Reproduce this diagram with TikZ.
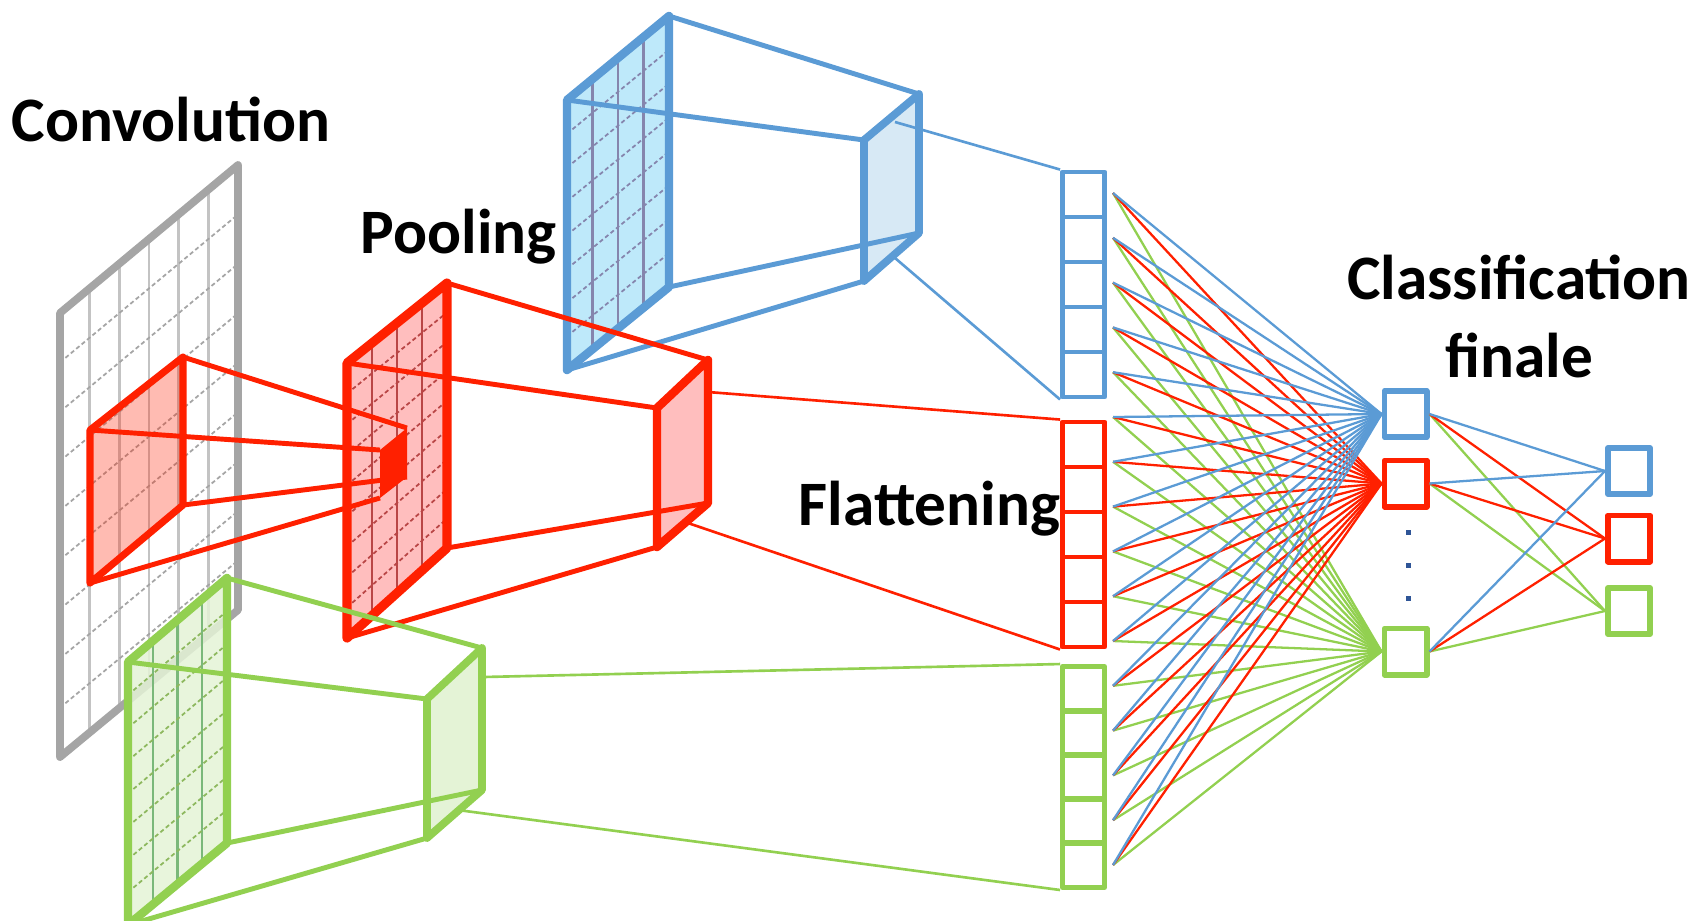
\documentclass[tikz,border=0pt]{standalone}
\usepackage{fontspec}
\setmainfont{Carlito}
\usetikzlibrary{calc}

\definecolor{cnnblue}{RGB}{91,155,213}
\definecolor{cnnred}{RGB}{255,32,0}
\definecolor{cnngreen}{RGB}{146,208,80}
\definecolor{cnngray}{RGB}{165,165,165}
\definecolor{gridgray}{RGB}{195,195,195}
\definecolor{fillblue}{RGB}{190,233,250}
\definecolor{fillred}{RGB}{255,190,190}
\definecolor{fillgreen}{RGB}{228,243,214}
\definecolor{boxblue}{RGB}{215,233,245}
\definecolor{dotblue}{RGB}{47,85,151}

\tikzset{
  label/.style={font=\fontsize{18}{22}\selectfont\bfseries, inner sep=0pt},
  cell/.style={draw, line width=1.4pt, minimum width=0.42cm, minimum height=0.45cm, inner sep=0pt},
  unit/.style={draw, line width=1.7pt, fill=white, minimum width=0.42cm, minimum height=0.46cm, inner sep=0pt},
  cone/.style={line width=1.4pt},
  feed/.style={line width=0.75pt},
  net/.style={line width=0.65pt},
  vline/.style={line width=0.7pt},
  hline/.style={line width=0.5pt, dash pattern=on 1.2pt off 0.8pt}
}

\begin{document}
\begin{tikzpicture}[x=0.01cm, y=-0.01cm, line join=round]

  \useasboundingbox (0,0) rectangle (1700,920);

  % convolution plane
  \coordinate (c1) at (60,313);
  \coordinate (c2) at (238,165);
  \coordinate (c3) at (238,610);
  \coordinate (c4) at (60,757);
  \fill[white] (c1) -- (c2) -- (c3) -- (c4) -- cycle;
  \foreach \t in {1,...,5}
    \draw[vline, gridgray] ($(c1)!{\t/6}!(c2)$) -- ($(c4)!{\t/6}!(c3)$);
  \foreach \t in {1,...,8}
    \draw[hline, cnngray] ($(c1)!{\t/9}!(c4)$) -- ($(c2)!{\t/9}!(c3)$);
  \draw[line width=2.2pt, cnngray] (c1) -- (c2) -- (c3) -- (c4) -- cycle;

  % red filter
  \coordinate (k1) at (90,430);
  \coordinate (k2) at (183,357);
  \coordinate (k3) at (183,505);
  \coordinate (k4) at (90,583);
  \filldraw[draw=cnnred, fill=cnnred, fill opacity=0.3, line width=2pt]
    (k1) -- (k2) -- (k3) -- (k4) -- cycle;

  % red pooling plane
  \coordinate (p1) at (347,363);
  \coordinate (p2) at (447,283);
  \coordinate (p3) at (447,548);
  \coordinate (p4) at (347,638);
  \fill[fillred] (p1) -- (p2) -- (p3) -- (p4) -- cycle;
  \foreach \t in {1,...,3}
    \draw[vline, red!45!gray] ($(p1)!{\t/4}!(p2)$) -- ($(p4)!{\t/4}!(p3)$);
  \foreach \t in {1,...,8}
    \draw[hline, red!45!gray] ($(p1)!{\t/9}!(p4)$) -- ($(p2)!{\t/9}!(p3)$);
  \draw[line width=2.6pt, cnnred] (p1) -- (p2) -- (p3) -- (p4) -- cycle;

  \coordinate (q1) at (380,450);
  \coordinate (q2) at (407,428);
  \coordinate (q3) at (407,477);
  \coordinate (q4) at (380,498);
  \fill[cnnred] (q1) -- (q2) -- (q3) -- (q4) -- cycle;
  \draw[cone, cnnred] (k1) -- (q1);
  \draw[cone, cnnred] (k2) -- (q2);
  \draw[cone, cnnred] (k3) -- (q3);
  \draw[cone, cnnred] (k4) -- (q4);

  % blue plane
  \coordinate (u1) at (567,100);
  \coordinate (u2) at (669,16);
  \coordinate (u3) at (669,287);
  \coordinate (u4) at (567,370);
  \fill[fillblue] (u1) -- (u2) -- (u3) -- (u4) -- cycle;
  \foreach \t in {1,...,3}
    \draw[vline, blue!20!gray!80] ($(u1)!{\t/4}!(u2)$) -- ($(u4)!{\t/4}!(u3)$);
  \foreach \t in {1,...,7}
    \draw[hline, blue!20!gray!80] ($(u1)!{\t/8}!(u4)$) -- ($(u2)!{\t/8}!(u3)$);
  \draw[line width=2.4pt, cnnblue] (u1) -- (u2) -- (u3) -- (u4) -- cycle;

  \coordinate (v1) at (864,140);
  \coordinate (v2) at (919,94);
  \coordinate (v3) at (919,233);
  \coordinate (v4) at (864,281);
  \filldraw[draw=cnnblue, fill=boxblue, line width=2.2pt]
    (v1) -- (v2) -- (v3) -- (v4) -- cycle;
  \draw[cone, cnnblue] (u1) -- (v1);
  \draw[cone, cnnblue] (u2) -- (v2);
  \draw[cone, cnnblue] (u3) -- (v3);
  \draw[cone, cnnblue] (u4) -- (v4);

  % red pooled box
  \coordinate (s1) at (657,408);
  \coordinate (s2) at (708,360);
  \coordinate (s3) at (708,503);
  \coordinate (s4) at (657,547);
  \filldraw[draw=cnnred, fill=fillred, line width=2.4pt]
    (s1) -- (s2) -- (s3) -- (s4) -- cycle;
  \draw[cone, cnnred] (p1) -- (s1);
  \draw[cone, cnnred] (p2) -- (s2);
  \draw[cone, cnnred] (p3) -- (s3);
  \draw[cone, cnnred] (p4) -- (s4);

  % green plane
  \coordinate (w1) at (128,662);
  \coordinate (w2) at (227,578);
  \coordinate (w3) at (227,843);
  \coordinate (w4) at (128,925);
  \fill[fillgreen, fill opacity=0.85] (w1) -- (w2) -- (w3) -- (w4) -- cycle;
  \foreach \t in {1,...,3}
    \draw[vline, green!30!gray!80] ($(w1)!{\t/4}!(w2)$) -- ($(w4)!{\t/4}!(w3)$);
  \foreach \t in {1,...,7}
    \draw[hline, cnngreen!70!gray] ($(w1)!{\t/8}!(w4)$) -- ($(w2)!{\t/8}!(w3)$);
  \draw[line width=2.4pt, cnngreen] (w1) -- (w2) -- (w3) -- (w4) -- cycle;

  \coordinate (z1) at (427,699);
  \coordinate (z2) at (482,648);
  \coordinate (z3) at (482,790);
  \coordinate (z4) at (427,838);
  \filldraw[draw=cnngreen, fill=fillgreen, line width=2.2pt]
    (z1) -- (z2) -- (z3) -- (z4) -- cycle;
  \draw[cone, cnngreen] (w1) -- (z1);
  \draw[cone, cnngreen] (w2) -- (z2);
  \draw[cone, cnngreen] (w3) -- (z3);
  \draw[cone, cnngreen] (w4) -- (z4);

  % flattening
  \foreach \i in {1,...,5} {
    \node[cell, draw=cnnblue]  (b\i) at (1083.5,{194.5+45*(\i-1)}) {};
    \node[cell, draw=cnnred]   (r\i) at (1083.5,{444.5+45*(\i-1)}) {};
    \node[cell, draw=cnngreen] (g\i) at (1083.5,{689+44*(\i-1)}) {};
  }

  \coordinate (v5) at (895,122);
  \coordinate (v6) at (895,258);
  \coordinate (s5) at (708,392);
  \coordinate (s6) at (685,522);
  \coordinate (z5) at (483,677);
  \coordinate (z6) at (458,810);
  \draw[feed, cnnblue]  (v5) -- (b1.north west);
  \draw[feed, cnnblue]  (v6) -- (b5.south west);
  \draw[feed, cnnred]   (s5) -- (r1.north west);
  \draw[feed, cnnred]   (s6) -- (r5.south west);
  \draw[feed, cnngreen] (z5) -- (g1.north west);
  \draw[feed, cnngreen] (z6) -- (g5.south west);

  % fully connected
  \node[unit, draw=cnnblue]  (h1) at (1405.5,414) {};
  \node[unit, draw=cnnred]   (h2) at (1405.5,483.5) {};
  \node[unit, draw=cnngreen] (h3) at (1405.5,651.5) {};
  \foreach \i in {1,...,3}
    \node[fill=dotblue, minimum size=0.05cm, inner sep=0pt] (d\i) at (1408,{532+33*(\i-1)}) {};

  \foreach \i in {1,...,16}
    \coordinate (f\i) at (1113,{193+44.8*(\i-1)});
  \foreach \i in {1,...,16}
    \draw[net, cnngreen] (f\i) -- (h3.west);
  \foreach \i in {1,...,16}
    \draw[net, cnnred] (f\i) -- (h2.west);
  \foreach \i in {1,...,16}
    \draw[net, cnnblue] (f\i) -- (h1.west);

  \node[unit, draw=cnnblue]  (o1) at (1629,471) {};
  \node[unit, draw=cnnred]   (o2) at (1629,538.5) {};
  \node[unit, draw=cnngreen] (o3) at (1629,611) {};
  \foreach \h in {1,2,3} {
    \draw[net, cnngreen] (h\h.east) -- (o3.west);
    \draw[net, cnnred]   (h\h.east) -- (o2.west);
    \draw[net, cnnblue]  (h\h.east) -- (o1.west);
  }

  % labels
  \node[label, anchor=base west] (convtext)  at (11,141)  {Convolution};
  \node[label, anchor=base west] (pooltext)  at (360,253) {Pooling};
  \node[label, anchor=base west] (flattext)  at (798,525) {Flattening};
  \node[label, anchor=base, align=center] (classtext) at (1519,377) {Classification\\finale};

\end{tikzpicture}
\end{document}
